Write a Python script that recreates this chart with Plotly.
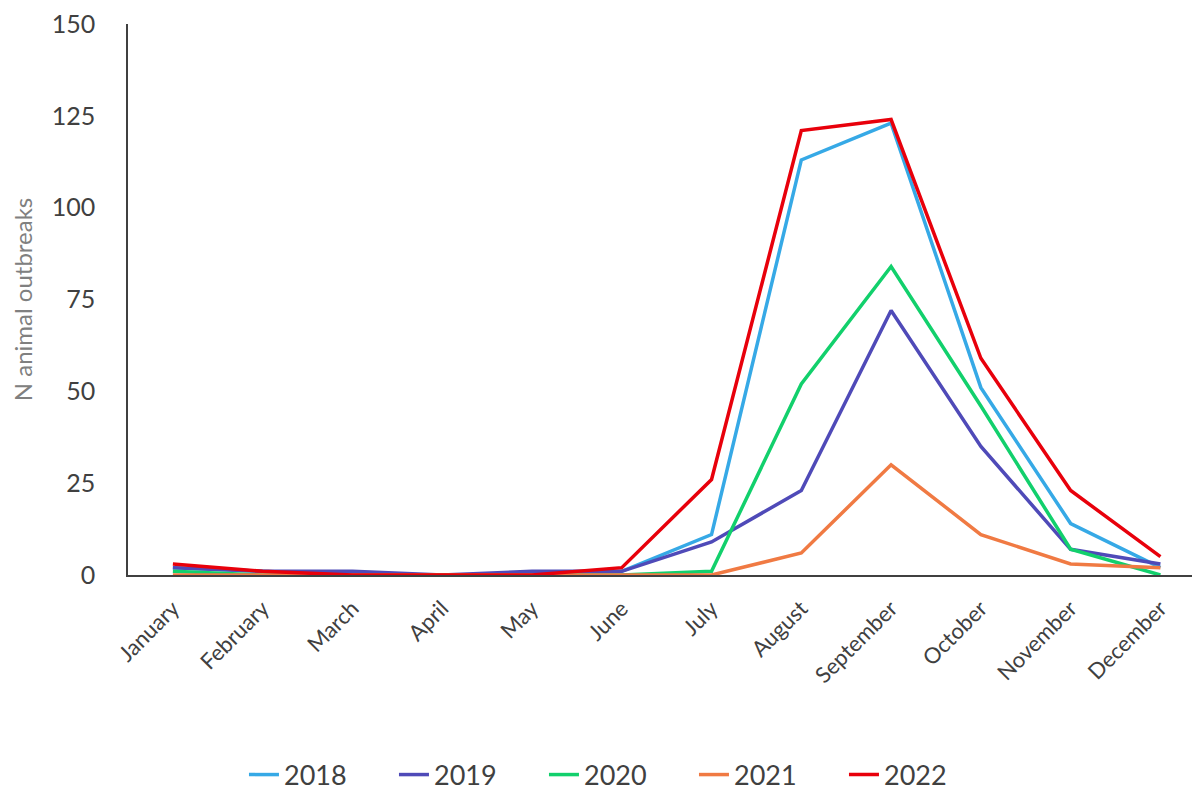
import plotly.graph_objects as go

# months on the category axis
months = ["January", "February", "March", "April", "May", "June",
          "July", "August", "September", "October", "November", "December"]

# monthly counts of animal outbreaks per year
y2018 = [2, 1, 0, 0, 0, 1, 11, 113, 123, 51, 14, 2]
y2019 = [2, 1, 1, 0, 1, 1, 9, 23, 72, 35, 7, 3]
y2020 = [1, 0, 0, 0, 0, 0, 1, 52, 84, 46, 7, 0]
y2021 = [0, 0, 0, 0, 0, 0, 0, 6, 30, 11, 3, 2]
y2022 = [3, 1, 0, 0, 0, 2, 26, 121, 124, 59, 23, 5]

years = ["2018", "2019", "2020", "2021", "2022"]
series = [y2018, y2019, y2020, y2021, y2022]
colors = ["#36A9E6", "#4F4AB8", "#12D06C", "#F07A43", "#E8000B"]

fig = go.Figure()
for name, vals, col in zip(years, series, colors):
    fig.add_trace(go.Scatter(
        x=months, y=vals, mode="lines", name=name,
        line=dict(color=col, width=3.5),
    ))

# margins allow for the 8px body margin of the html page
fig.update_layout(
    width=1200, height=789,
    margin=dict(l=120, r=0, t=16, b=222, autoexpand=False),
    paper_bgcolor="white", plot_bgcolor="white",
    font=dict(family="Lato", color="#404040", size=24),
    showlegend=True,
    legend=dict(
        orientation="h", x=0.4546, xanchor="center", y=-0.363, yanchor="middle",
        font=dict(size=27, color="#404040"), entrywidth=105,
        traceorder="normal", itemwidth=30,
    ),
)

fig.update_xaxes(
    type="category", range=[-0.5, 11.53], automargin=False,
    showline=True, linecolor="#404040", linewidth=2,
    showgrid=False, ticks="", tickangle=-45,
    tickfont=dict(size=22, color="#404040"),
    ticklabelstandoff=10,
)
fig.update_yaxes(
    range=[0, 150], tickvals=[0, 25, 50, 75, 100, 125, 150], automargin=False,
    showline=True, linecolor="#404040", linewidth=1.5,
    showgrid=False, zeroline=False, ticks="",
    tickfont=dict(size=25, color="#404040"),
    ticklabelstandoff=26, ticklabeloverflow="allow",
    title=dict(text="N animal outbreaks", font=dict(size=24, color="#808080"), standoff=25),
)

fig.write_html("out.html")
